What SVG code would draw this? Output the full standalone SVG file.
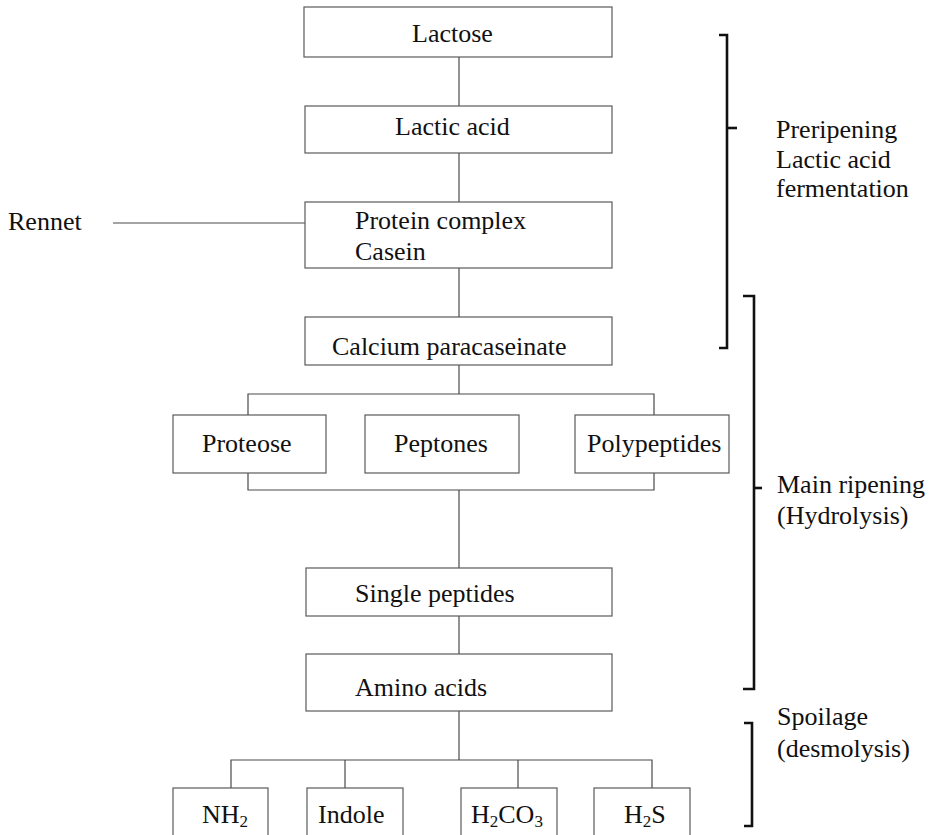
<svg xmlns="http://www.w3.org/2000/svg" width="933" height="835" viewBox="0 0 933 835">
  <style>
    .box { fill: #ffffff; stroke: #5a5a5a; stroke-width: 1.2; }
    .link { fill: none; stroke: #4a4a4a; stroke-width: 1.2; }
    .brace { fill: none; stroke: #111111; stroke-width: 2.6; stroke-linejoin: miter; }
    text { font-family: "Liberation Serif", "Times New Roman", serif; font-size: 26px; fill: #111111; }
    .sub { font-size: 17px; }
  </style>
  <rect x="0" y="0" width="933" height="835" fill="#ffffff"/>

  <!-- connectors -->
  <g id="connectors">
    <path class="link" d="M459,57 V106"/>
    <path class="link" d="M459,153 V202"/>
    <path class="link" d="M113,223 H305"/>
    <path class="link" d="M459,268 V317"/>
    <path class="link" d="M459,365 V394"/>
    <path class="link" d="M248,415 V394 H654 V415"/>
    <path class="link" d="M248,473 V490 H654 V473"/>
    <path class="link" d="M459,490 V568"/>
    <path class="link" d="M459,616 V654"/>
    <path class="link" d="M459,711 V760"/>
    <path class="link" d="M231,788 V760 H652 V788"/>
    <path class="link" d="M345,760 V788"/>
    <path class="link" d="M518,760 V788"/>
  </g>

  <!-- stage brackets -->
  <g id="stage-brackets">
    <path class="brace" d="M719,35 H727 V348 H719"/>
    <path class="brace" d="M727,128 H737"/>
    <path class="brace" d="M743,296 H754 V689 H743"/>
    <path class="brace" d="M754,488 H762"/>
    <path class="brace" d="M744,723 H752 V826 H744"/>
  </g>

  <g id="lactose">
    <rect class="box" x="304" y="7" width="308" height="50"/>
    <text x="412" y="42">Lactose</text>
  </g>
  <g id="lactic-acid">
    <rect class="box" x="305" y="106" width="307" height="47"/>
    <text x="395" y="135">Lactic acid</text>
  </g>
  <g id="rennet">
    <text x="8" y="230">Rennet</text>
  </g>
  <g id="protein-complex">
    <rect class="box" x="305" y="202" width="307" height="66"/>
    <text x="355" y="229">Protein complex</text>
    <text x="355" y="260">Casein</text>
  </g>
  <g id="calcium-paracaseinate">
    <rect class="box" x="305" y="317" width="307" height="48"/>
    <text x="332" y="355">Calcium paracaseinate</text>
  </g>
  <g id="proteose">
    <rect class="box" x="173" y="415" width="153" height="58"/>
    <text x="202" y="452">Proteose</text>
  </g>
  <g id="peptones">
    <rect class="box" x="365" y="415" width="154" height="58"/>
    <text x="394" y="452">Peptones</text>
  </g>
  <g id="polypeptides">
    <rect class="box" x="575" y="415" width="154" height="58"/>
    <text x="587" y="452">Polypeptides</text>
  </g>
  <g id="single-peptides">
    <rect class="box" x="306" y="568" width="306" height="48"/>
    <text x="355" y="602">Single peptides</text>
  </g>
  <g id="amino-acids">
    <rect class="box" x="306" y="654" width="306" height="57"/>
    <text x="355" y="696">Amino acids</text>
  </g>
  <g id="nh2">
    <rect class="box" x="173" y="788" width="95" height="60"/>
    <text x="202" y="823">NH<tspan class="sub" dy="4">2</tspan></text>
  </g>
  <g id="indole">
    <rect class="box" x="307" y="788" width="96" height="60"/>
    <text x="318" y="823">Indole</text>
  </g>
  <g id="h2co3">
    <rect class="box" x="461" y="788" width="96" height="60"/>
    <text x="471" y="823">H<tspan class="sub" dy="4">2</tspan><tspan dy="-4">CO</tspan><tspan class="sub" dy="4">3</tspan></text>
  </g>
  <g id="h2s">
    <rect class="box" x="594" y="788" width="96" height="60"/>
    <text x="624" y="823">H<tspan class="sub" dy="4">2</tspan><tspan dy="-4">S</tspan></text>
  </g>

  <g id="stage-labels">
    <text x="776" y="138">Preripening</text>
    <text x="776" y="168">Lactic acid</text>
    <text x="776" y="197">fermentation</text>
    <text x="777" y="493">Main ripening</text>
    <text x="777" y="524">(Hydrolysis)</text>
    <text x="777" y="725">Spoilage</text>
    <text x="777" y="757">(desmolysis)</text>
  </g>
</svg>
